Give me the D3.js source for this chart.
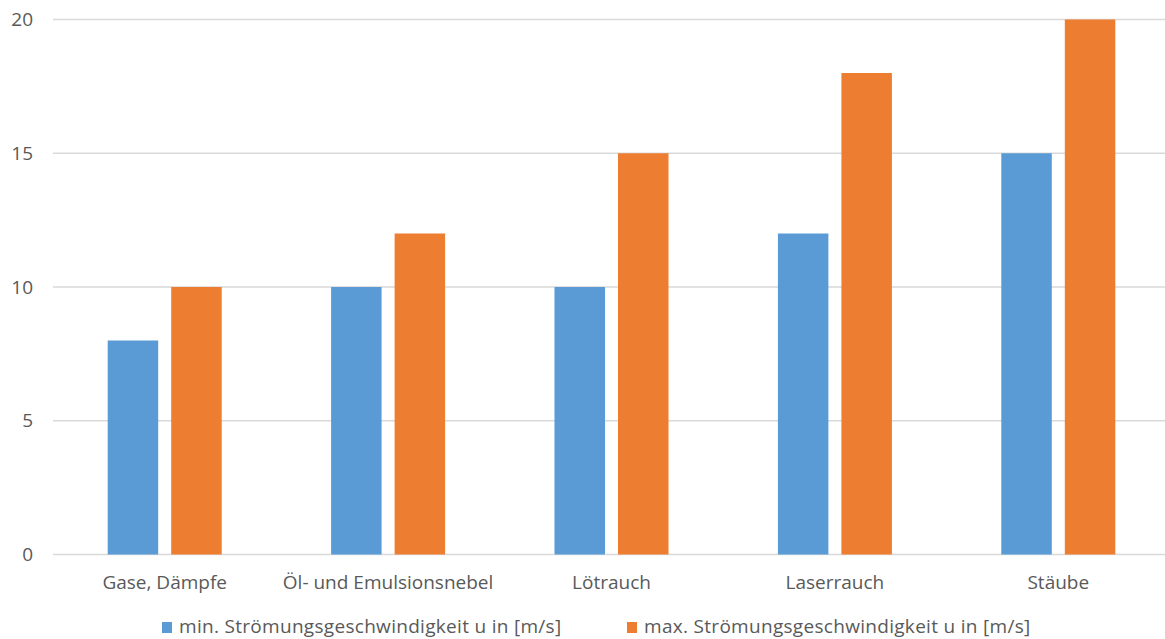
<!DOCTYPE html>
<html>
<head>
<meta charset="utf-8">
<script src="https://cdn.jsdelivr.net/npm/d3@7"></script>
<style>
  html, body { margin: 0; padding: 0; background: #fff; }
  svg { display: block; font-family: "Open Sans", "Noto Sans", sans-serif; }
</style>
</head>
<body>
<svg id="chart" width="1165" height="639"></svg>
<script>
// Categories and series values
const categories = ["Gase, Dämpfe", "Öl- und Emulsionsnebel", "Lötrauch", "Laserrauch", "Stäube"];
const minValues = [8, 10, 10, 12, 15];
const maxValues = [10, 12, 15, 18, 20];
const seriesNames = ["min. Strömungsgeschwindigkeit u in [m/s]", "max. Strömungsgeschwindigkeit u in [m/s]"];
const seriesColors = ["#5B9BD5", "#ED7D31"];
const yTicks = [0, 5, 10, 15, 20];

const svg = d3.select("#chart");
const W = 1165, H = 639;
// plot area runs slightly past the right edge of the canvas
const plotLeft = 53, plotRight = 1170, plotTop = 20, plotBottom = 555;
const fontSize = 19;

const x = d3.scaleBand()
  .domain(categories)
  .range([plotLeft, plotRight])
  .paddingInner(0)
  .paddingOuter(0);

const xs = d3.scaleBand()
  .domain([0, 1])
  .range([54.7, x.bandwidth() - 54.7])
  .paddingInner(0.205);

const y = d3.scaleLinear()
  .domain([0, 20])
  .range([plotBottom - 0.5, plotTop - 0.5]);

// Horizontal gridlines
svg.append("g")
  .selectAll("line")
  .data(yTicks)
  .join("line")
  .attr("x1", plotLeft)
  .attr("x2", W)
  .attr("y1", d => y(d))
  .attr("y2", d => y(d))
  .attr("stroke", "#D9D9D9")
  .attr("stroke-width", 1.3);

// Y-axis labels
svg.append("g")
  .selectAll("text")
  .data(yTicks)
  .join("text")
  .attr("x", 33)
  .attr("y", d => y(d))
  .attr("dy", "0.35em")
  .attr("text-anchor", "end")
  .attr("fill", "#595959")
  .attr("font-size", fontSize)
  .text(d => d);

// Bars
const data = categories.map((c, i) => ({ cat: c, vals: [minValues[i], maxValues[i]] }));
const groups = svg.append("g")
  .selectAll("g")
  .data(data)
  .join("g")
  .attr("transform", d => `translate(${x(d.cat)},0)`);

groups.selectAll("rect")
  .data(d => d.vals.map((v, k) => ({ k, v })))
  .join("rect")
  .attr("x", d => xs(d.k))
  .attr("width", xs.bandwidth())
  .attr("y", d => y(d.v))
  .attr("height", d => y(0) - y(d.v))
  .attr("fill", d => seriesColors[d.k]);

// Category labels
svg.append("g")
  .selectAll("text")
  .data(categories)
  .join("text")
  .attr("x", d => x(d) + x.bandwidth() / 2)
  .attr("y", 589)
  .attr("text-anchor", "middle")
  .attr("fill", "#595959")
  .attr("font-size", fontSize)
  .text(d => d);

// Legend
const legendX = [162, 627];
const legend = svg.append("g")
  .selectAll("g")
  .data(seriesNames)
  .join("g")
  .attr("transform", (d, i) => `translate(${legendX[i]},633)`);
legend.append("rect")
  .attr("x", 0).attr("y", -11)
  .attr("width", 10).attr("height", 11)
  .attr("fill", (d, i) => seriesColors[i]);
legend.append("text")
  .attr("x", 17)
  .attr("y", 0)
  .attr("fill", "#595959")
  .attr("font-size", fontSize)
  .attr("letter-spacing", 0.3)
  .text(d => d);
</script>
</body>
</html>
